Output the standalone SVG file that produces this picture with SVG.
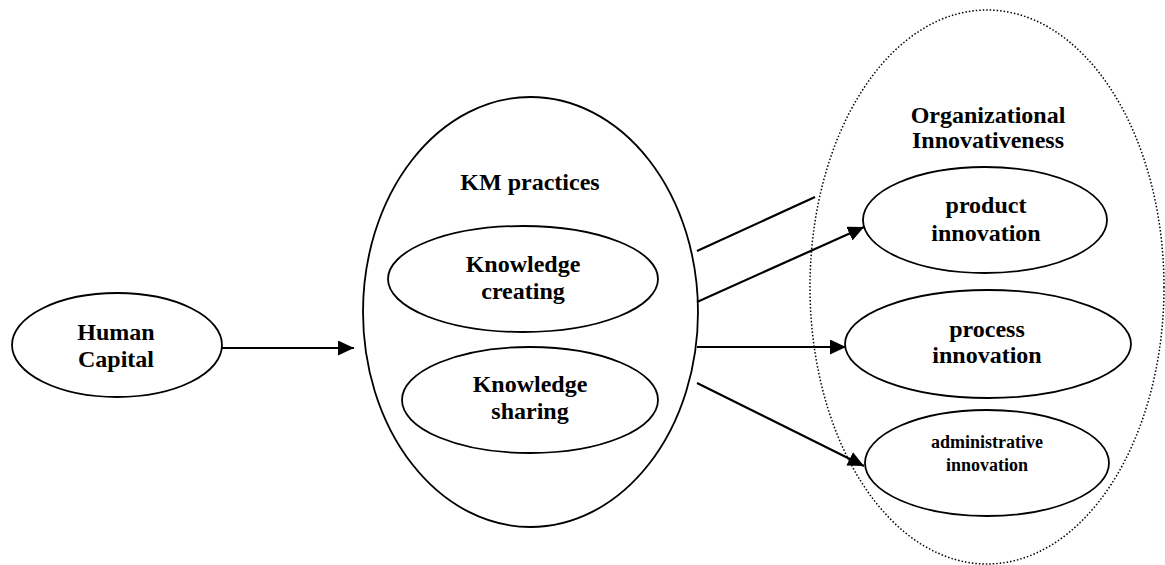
<svg xmlns="http://www.w3.org/2000/svg" width="1165" height="565" viewBox="0 0 1165 565">
<style>
.n{fill:#fff;stroke:#000;stroke-width:1.8}
.d{fill:none;stroke:#000;stroke-width:1.5;stroke-dasharray:1.5 2}
.t{font-family:"Liberation Serif","Times New Roman",serif;font-weight:bold;font-size:24px;fill:#000;text-anchor:middle}
.s{font-size:18px}
.c{stroke:#000;stroke-width:2.2;fill:none}
</style>
<defs>
<marker id="ah" markerUnits="userSpaceOnUse" markerWidth="17" markerHeight="16" refX="16" refY="7.5" orient="auto">
<path d="M0,0 L16,7.5 L0,15 z" fill="#000"/>
</marker>
</defs>
<g id="org-innovativeness">
<ellipse class="d" cx="987" cy="287" rx="177" ry="277"/>
<text class="t" x="988" y="123">Organizational</text>
<text class="t" x="988" y="148">Innovativeness</text>
</g>
<g id="human-capital">
<ellipse class="n" cx="117" cy="345" rx="105" ry="52"/>
<text class="t" x="116" y="340">Human</text>
<text class="t" x="116" y="367">Capital</text>
</g>
<g id="km-practices">
<ellipse class="n" cx="530.5" cy="312" rx="167.5" ry="215"/>
<text class="t" x="530" y="190">KM practices</text>
</g>
<g id="knowledge-creating">
<ellipse class="n" cx="523" cy="279" rx="135" ry="53"/>
<text class="t" x="523" y="272">Knowledge</text>
<text class="t" x="523" y="299">creating</text>
</g>
<g id="knowledge-sharing">
<ellipse class="n" cx="530" cy="400" rx="128" ry="53"/>
<text class="t" x="530" y="392">Knowledge</text>
<text class="t" x="530" y="419">sharing</text>
</g>
<g id="product-innovation">
<ellipse class="n" cx="985" cy="220" rx="122" ry="53"/>
<text class="t" x="986" y="213">product</text>
<text class="t" x="986" y="241">innovation</text>
</g>
<g id="process-innovation">
<ellipse class="n" cx="988" cy="344" rx="143" ry="54"/>
<text class="t" x="987" y="337">process</text>
<text class="t" x="987" y="363">innovation</text>
</g>
<g id="administrative-innovation">
<ellipse class="n" cx="987" cy="463" rx="122" ry="53"/>
<text class="t s" x="987" y="448">administrative</text>
<text class="t s" x="987" y="471">innovation</text>
</g>
<g id="connectors">
<line class="c" x1="222" y1="348" x2="354" y2="348" marker-end="url(#ah)"/>
<line class="c" x1="697" y1="251" x2="815" y2="197"/>
<line class="c" x1="697" y1="302" x2="864" y2="227" marker-end="url(#ah)"/>
<line class="c" x1="697" y1="347" x2="846" y2="347" marker-end="url(#ah)"/>
<line class="c" x1="697" y1="383" x2="864" y2="466" marker-end="url(#ah)"/>
</g>
</svg>
